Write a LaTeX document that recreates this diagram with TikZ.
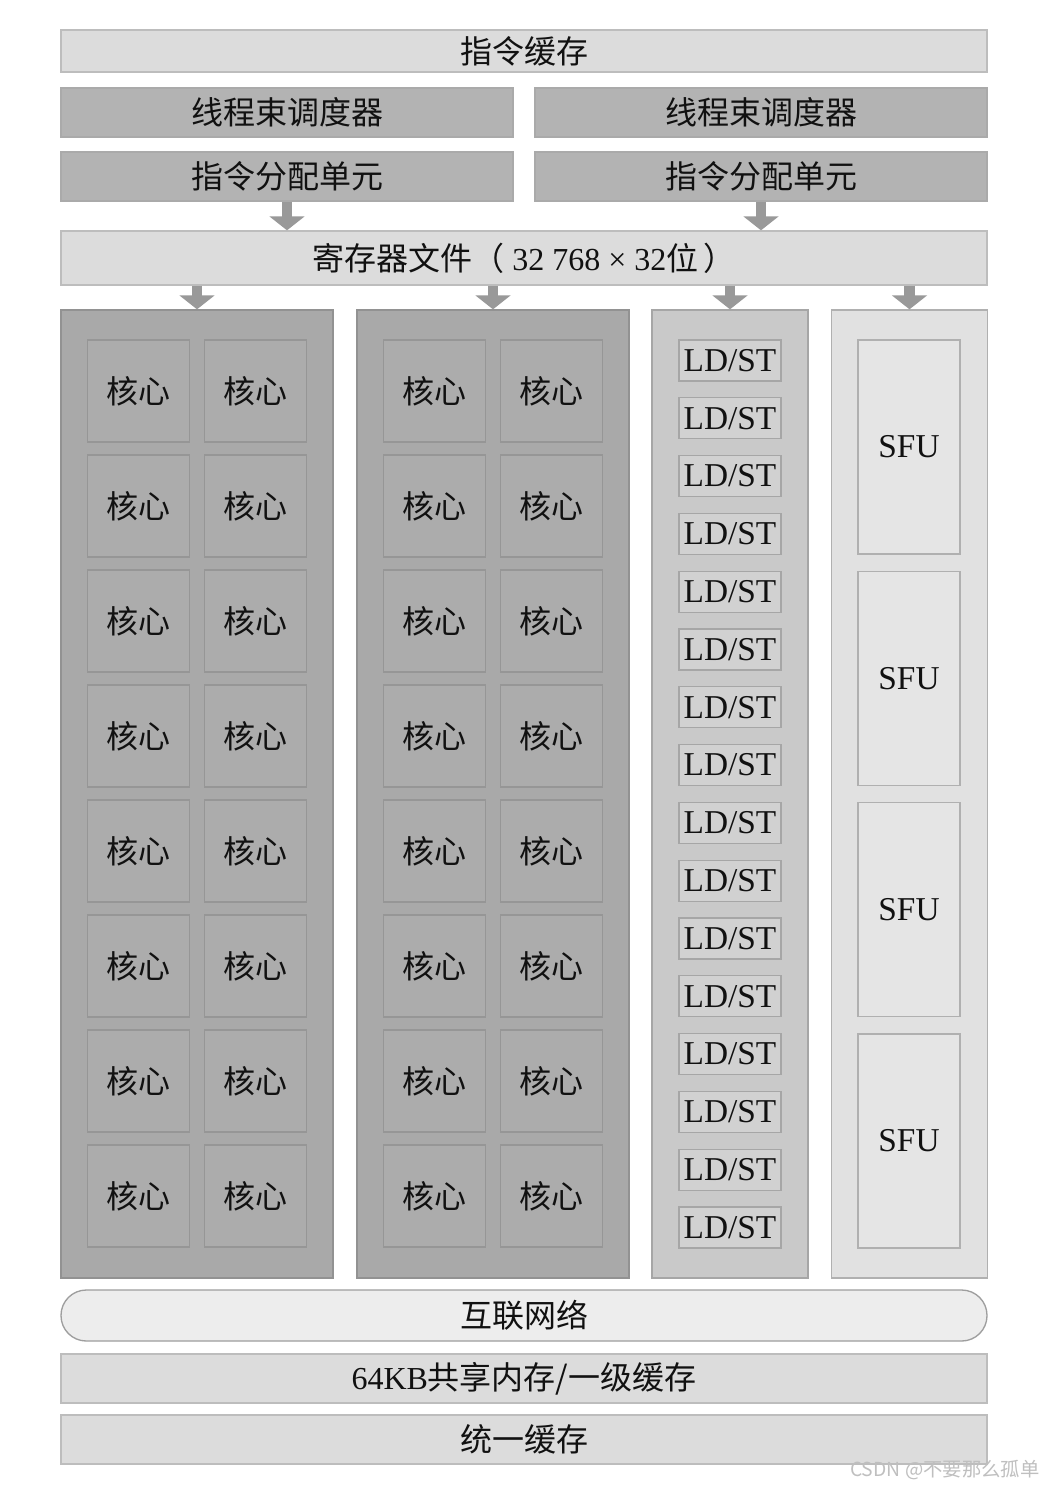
\documentclass[tikz,border=0pt]{standalone}
\usepackage{fontspec}
\setmainfont{Liberation Serif}
\newfontfamily\cjk{Noto Sans CJK SC}
\usetikzlibrary{arrows.meta}

\definecolor{cpale}{HTML}{DCDCDC}
\definecolor{cpaleline}{HTML}{BDBDBD}
\definecolor{cdark}{HTML}{B3B3B3}
\definecolor{cdarkline}{HTML}{AAAAAA}
\definecolor{ccluster}{HTML}{A9A9A9}
\definecolor{cclusterline}{HTML}{929292}
\definecolor{ccore}{HTML}{ACACAC}
\definecolor{ccoreline}{HTML}{969696}
\definecolor{cldcol}{HTML}{C9C9C9}
\definecolor{cldline}{HTML}{A6A6A6}
\definecolor{cldbox}{HTML}{D1D1D1}
\definecolor{csfucol}{HTML}{E1E1E1}
\definecolor{csfuline}{HTML}{B0B0B0}
\definecolor{csfubox}{HTML}{E5E5E5}
\definecolor{cnet}{HTML}{EDEDED}
\definecolor{cnetline}{HTML}{9E9E9E}
\definecolor{carw}{HTML}{999999}
\definecolor{ctxt}{HTML}{111111}
\definecolor{cmark}{HTML}{BFBFBF}

\begin{document}
\begin{tikzpicture}[x=0.75pt, y=-0.75pt, sz/.style 2 args={minimum width=#1*0.75pt, minimum height=#2*0.75pt}]
        \tikzstyle{every node}=[rectangle, inner sep=0pt, text=ctxt, line width=1pt]
        \tikzstyle{pale}=[fill=cpale, draw=cpaleline, font=\cjk\fontsize{24}{28}\selectfont]
        \tikzstyle{dark}=[fill=cdark, draw=cdarkline, font=\cjk\fontsize{24}{28}\selectfont]
        \tikzstyle{cluster}=[fill=ccluster, draw=cclusterline]
        \tikzstyle{core}=[fill=ccore, draw=ccoreline, font=\cjk\fontsize{24}{28}\selectfont]
        \tikzstyle{ldcol}=[fill=cldcol, draw=cldline]
        \tikzstyle{ldbox}=[fill=cldbox, draw=cldline, font=\fontsize{25}{28}\selectfont]
        \tikzstyle{sfucol}=[fill=csfucol, draw=csfuline]
        \tikzstyle{sfubox}=[fill=csfubox, draw=csfuline, font=\fontsize{25}{28}\selectfont]
        \tikzstyle{net}=[fill=cnet, draw=cnetline, rounded corners=19pt, font=\cjk\fontsize{24}{28}\selectfont]
        \tikzstyle{feed}=[draw=carw, line width=8pt, -{Triangle[width=26pt, length=10.5pt]}]
        \useasboundingbox[fill=white] (0,0) rectangle (1042,1488);
        % front end
        \node [pale, sz={926}{42}] (icache) at (524,51) {指令缓存};
        \node [dark, sz={452}{49}] (sched1) at (287,112.5) {线程束调度器};
        \node [dark, sz={452}{49}] (sched2) at (761,112.5) {线程束调度器};
        \node [dark, sz={452}{49}] (disp1) at (287,176.5) {指令分配单元};
        \node [dark, sz={452}{49}] (disp2) at (761,176.5) {指令分配单元};
        \node [pale, sz={926}{54}] (regs) at (524,258) {寄存器文件（{\rmfamily\ 32 768 × 32}位\,）};
        % execution units
        \node [cluster, sz={272}{968}] (sm1) at (197,794) {};
        \node [cluster, sz={272}{968}] (sm2) at (493,794) {};
        \node [ldcol, sz={156}{968}] (ldst) at (730,794) {};
        \node [sfucol, sz={156}{968}] (sfu) at (909.5,794) {};
        \foreach \k in {0,1}
            \foreach \c in {0,1}
                \foreach \r in {0,...,7}
                    \node [core, sz={102}{102}] (core\k\c\r) at ({138.5+117*\c+296*\k},{391+115*\r}) {核心};
        \foreach \i in {0,...,15}
            \node [ldbox, sz={102}{41}] (ld\i) at (730,{360.5+57.8*\i}) {LD/ST};
        \foreach \j in {0,...,3}
            \node [sfubox, sz={102}{214}] (sf\j) at (909,{447+231.3*\j}) {SFU};
        % memory
        \node [net, sz={926}{51}] (net) at (524,1315.5) {互联网络};
        \node [pale, sz={926}{49}] (smem) at (524,1378.5) {{\rmfamily 64KB}共享内存/一级缓存};
        \node [pale, sz={926}{49}] (ucache) at (524,1439.5) {统一缓存};
        \node [anchor=east, text=cmark, font=\cjk\fontsize{14.5}{16}\selectfont] (mark) at (1040,1470) {CSDN @不要那么孤单};
        \draw [feed] (disp1.south) -- (disp1.south |- regs.north);
        \draw [feed] (disp2.south) -- (disp2.south |- regs.north);
        \foreach \n in {sm1,sm2,ldst,sfu}
            \draw [feed] (regs.south -| \n.north) -- (\n.north);
    \end{tikzpicture}
\end{document}
